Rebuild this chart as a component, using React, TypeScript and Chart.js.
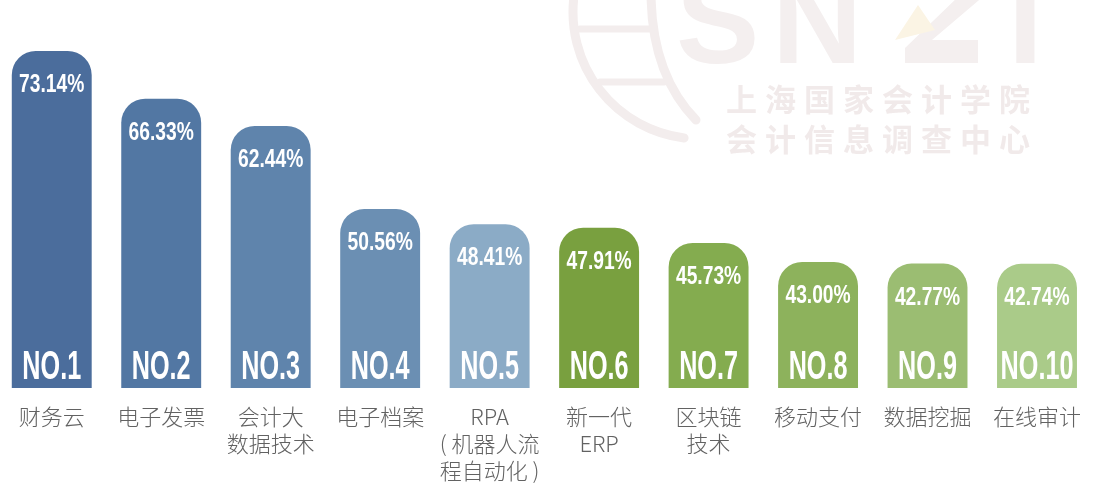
import React, { useEffect, useRef } from "react";
import { Chart, registerables } from "chart.js";

Chart.register(...registerables);

// ---- data ----
const categories: string[][] = [
  ["财务云"],
  ["电子发票"],
  ["会计大", "数据技术"],
  ["电子档案"],
  ["RPA", "( 机器人流", "程自动化 )"],
  ["新一代", "ERP"],
  ["区块链", "技术"],
  ["移动支付"],
  ["数据挖掘"],
  ["在线审计"],
];
const shares: number[] = [73.14, 66.33, 62.44, 50.56, 48.41, 47.91, 45.73, 43.0, 42.77, 42.74];
const ranks: string[] = ["NO.1", "NO.2", "NO.3", "NO.4", "NO.5", "NO.6", "NO.7", "NO.8", "NO.9", "NO.10"];
const barColors: string[] = [
  "#4b6d9c",
  "#5277a3",
  "#5f84ac",
  "#6b8fb3",
  "#8babc6",
  "#79a03f",
  "#84ac4f",
  "#8db25c",
  "#9bbd72",
  "#aacb89",
];
const watermarkLines: string[] = ["上海国家会计学院", "会计信息调查中心"];
const watermarkLetters: string[] = ["S", "N", "I"];

const OX = 3; // canvas shifted left by this many px

function drawNarrow(
  ctx: CanvasRenderingContext2D,
  text: string,
  x: number,
  y: number,
  font: string,
  sx: number
) {
  ctx.save();
  ctx.translate(x, y);
  ctx.scale(sx, 1);
  ctx.font = font;
  ctx.textAlign = "center";
  ctx.textBaseline = "alphabetic";
  ctx.fillStyle = "#ffffff";
  ctx.fillText(text, 0, 0);
  ctx.restore();
}

const watermarkPlugin = {
  id: "watermark",
  beforeDraw(chart: any) {
    const ctx: CanvasRenderingContext2D = chart.ctx;
    ctx.save();
    const faint = "#f3eded";
    // globe
    ctx.strokeStyle = faint;
    ctx.lineCap = "round";
    ctx.lineWidth = 9;
    ctx.beginPath();
    ctx.arc(700 + OX, 12, 127, Math.PI * 0.54, Math.PI * 1.06);
    ctx.stroke();
    ctx.beginPath();
    ctx.moveTo(651 + OX, -5);
    ctx.quadraticCurveTo(652 + OX, 75, 696 + OX, 120);
    ctx.stroke();
    ctx.lineWidth = 7;
    ctx.beginPath();
    ctx.moveTo(580 + OX, 29);
    ctx.lineTo(651 + OX, 29);
    ctx.moveTo(600 + OX, 82);
    ctx.lineTo(664 + OX, 82);
    ctx.stroke();
    // letters
    ctx.fillStyle = "#f4efef";
    ctx.font = "bold 125px 'Liberation Sans'";
    ctx.textBaseline = "alphabetic";
    ctx.textAlign = "left";
    const lx = [676, 772, 1008];
    watermarkLetters.forEach((l, i) => ctx.fillText(l, lx[i] + OX, 63));
    // stylised A
    ctx.beginPath();
    ctx.moveTo(960 + OX, -5);
    ctx.lineTo(985 + OX, -5);
    ctx.lineTo(932 + OX, 40);
    ctx.lineTo(978 + OX, 40);
    ctx.lineTo(978 + OX, 63);
    ctx.lineTo(905 + OX, 63);
    ctx.lineTo(905 + OX, 48);
    ctx.closePath();
    ctx.fill();
    ctx.fillStyle = "#fbf4e4";
    ctx.beginPath();
    ctx.moveTo(895 + OX, 40);
    ctx.lineTo(918 + OX, 5);
    ctx.lineTo(935 + OX, 30);
    ctx.closePath();
    ctx.fill();
    // text
    ctx.fillStyle = "#f1eaea";
    ctx.font = "bold 31px 'Noto Sans CJK SC'";
    ctx.textBaseline = "middle";
    (ctx as any).letterSpacing = "8px";
    ctx.fillText(watermarkLines[0], 726 + OX, 99);
    ctx.fillText(watermarkLines[1], 726 + OX, 139);
    ctx.restore();
  },
};

const barTextPlugin = {
  id: "barText",
  afterDatasetsDraw(chart: any) {
    const ctx: CanvasRenderingContext2D = chart.ctx;
    const meta = chart.getDatasetMeta(0);
    const bottom = chart.chartArea.bottom;
    meta.data.forEach((el: any, i: number) => {
      const x = el.x;
      const y = el.y;
      const base = Math.min(typeof el.base === "number" && isFinite(el.base) ? el.base : bottom, bottom);
      drawNarrow(ctx, shares[i].toFixed(2) + "%", x, y + 41, "bold 26px 'Liberation Sans'", 0.74);
      drawNarrow(ctx, ranks[i], x, base - 9, "bold 40px 'Liberation Sans'", 0.63);
    });
  },
};

export default function App() {
  const canvasRef = useRef<HTMLCanvasElement | null>(null);

  useEffect(() => {
    if (!canvasRef.current) return;
    const chart = new Chart(canvasRef.current, {
      type: "bar",
      data: {
        labels: categories,
        datasets: [
          {
            data: shares,
            backgroundColor: barColors,
            borderRadius: { topLeft: 24, topRight: 24, bottomLeft: 0, bottomRight: 0 },
            borderSkipped: false,
            barPercentage: 0.73,
            categoryPercentage: 1,
          },
        ],
      },
      options: {
        responsive: false,
        animation: false,
        devicePixelRatio: 1,
        layout: { padding: { top: 3, left: 0, right: 0, bottom: 0 } },
        plugins: {
          legend: { display: false },
          tooltip: { enabled: false },
        },
        scales: {
          x: {
            grid: { display: false, drawTicks: false },
            border: { display: false },
            ticks: {
              padding: 15,
              color: "#626262",
              font: { family: "'Noto Sans CJK SC'", size: 22, weight: "300" as any, lineHeight: "27px" as any },
              maxRotation: 0,
              autoSkip: false,
            },
          },
          y: {
            display: false,
            min: 25,
            max: 80,
          },
        },
      },
      plugins: [watermarkPlugin, barTextPlugin],
    });
    return () => chart.destroy();
  }, []);

  return (
    <div
      style={{
        position: "absolute",
        left: 0,
        top: 0,
        width: 1096,
        height: 484,
        overflow: "hidden",
        background: "#ffffff",
      }}
    >
      <canvas
        ref={canvasRef}
        width={1099}
        height={499}
        style={{ position: "absolute", left: -OX, top: 0, width: 1099, height: 499 }}
      />
    </div>
  );
}
